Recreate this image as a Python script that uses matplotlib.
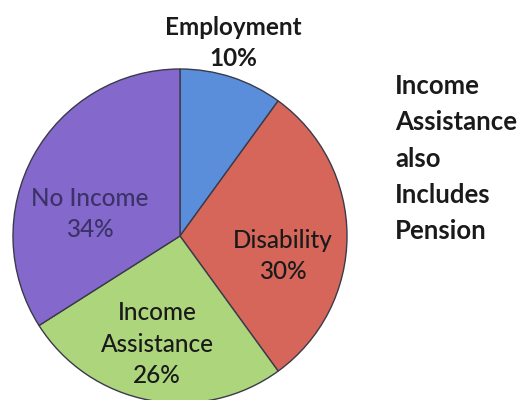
import matplotlib
matplotlib.use("Agg")
import matplotlib.pyplot as plt

categories = ["Employment", "Disability", "Income\nAssistance", "No Income"]
shares = [10, 30, 26, 34]
colors = ["#5a8edb", "#d6665a", "#acd57c", "#8468cc"]
label_colors = ["#1a1a1a", "#1a1a1a", "#1a1a1a", "#3b3368"]
note_lines = ["Income", "Assistance", "also", "Includes", "Pension"]

plt.rcParams["font.family"] = ["Lato", "DejaVu Sans"]

fig = plt.figure(figsize=(5.21, 4.0), dpi=100)
fig.patch.set_facecolor("white")

# Axes in pixel space: pie center ~ (180, 236), radius ~ 167
W, H = 521, 400
cx, cy, r = 180, 236, 167
ax = fig.add_axes([(cx - r) / W, 1 - (cy + r) / H, 2 * r / W, 2 * r / H])
wedges, _ = ax.pie(
    shares,
    colors=colors,
    startangle=90,
    counterclock=False,
    radius=1.0,
    wedgeprops=dict(edgecolor="#3a3a4a", linewidth=1.0),
)
ax.set_xlim(-1, 1)
ax.set_ylim(-1, 1)
ax.set_aspect("equal")
ax.axis("off")

def px(x, y):
    return x / W, 1 - y / H

# slice labels (name + percentage)
label_pos = [(233, 43), (283, 256), (157, 344), (90, 214)]
for name, val, (x, y), c in zip(categories, shares, label_pos, label_colors):
    fig.text(*px(x, y), f"{name}\n{val}%", ha="center", va="center",
             fontsize=17.5, color=c, linespacing=1.45,
             fontweight="bold" if name == "Employment" else "medium")

# side note
for i, line in enumerate(note_lines):
    fig.text(*px(395, 86 + i * 36.3), line, ha="left", va="center",
             fontsize=18.5, color="#1a1a1a", fontweight="bold")

fig.savefig("out.png", dpi=100, facecolor="white")
